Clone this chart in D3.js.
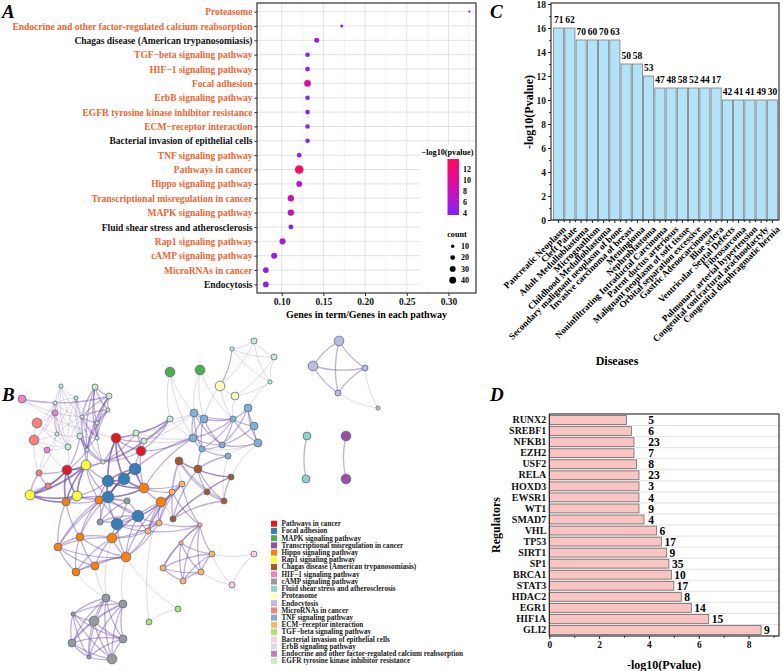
<!DOCTYPE html>
<html>
<head>
<meta charset="utf-8">
<script src="https://cdnjs.cloudflare.com/ajax/libs/d3/7.8.5/d3.min.js"></script>
<style>
body { margin: 0; background: #fff; }
svg text { font-family: "Liberation Serif", "Times New Roman", serif; font-weight: bold; }
</style>
</head>
<body>
<svg id="fig" width="783" height="671"></svg>
<script>
// ---------- A: KEGG dot plot ----------
const pathways = ["Proteasome", "Endocrine and other factor-regulated calcium reabsorption",
  "Chagas disease (American trypanosomiasis)", "TGF\u2212beta signaling pathway", "HIF\u22121 signaling pathway",
  "Focal adhesion", "ErbB signaling pathway", "EGFR tyrosine kinase inhibitor resistance",
  "ECM\u2212receptor interaction", "Bacterial invasion of epithelial cells", "TNF signaling pathway",
  "Pathways in cancer", "Hippo signaling pathway", "Transcriptional misregulation in cancer",
  "MAPK signaling pathway", "Fluid shear stress and atherosclerosis", "Rap1 signaling pathway",
  "cAMP signaling pathway", "MicroRNAs in cancer", "Endocytosis"];
const blackPathways = ["Chagas disease (American trypanosomiasis)", "Bacterial invasion of epithelial cells",
  "Fluid shear stress and atherosclerosis", "Endocytosis"];
const geneRatio = [0.325, 0.172, 0.142, 0.131, 0.131, 0.131, 0.131, 0.131, 0.131, 0.131,
  0.121, 0.121, 0.121, 0.111, 0.111, 0.111, 0.101, 0.091, 0.081, 0.081];
const pathCount = [4, 8, 22, 18, 20, 38, 18, 18, 18, 18, 19, 65, 28, 35, 35, 20, 33, 31, 29, 29];
const pathLogP = [4.6, 4.4, 5.2, 4.6, 4.8, 9.6, 4.6, 4.6, 4.6, 4.6, 5.0, 13.6, 6.5, 7.6, 8.2, 5.0, 5.9, 4.9, 4.2, 4.3];
const ratioTicks = [0.10, 0.15, 0.20, 0.25, 0.30];
const ratioMinor = [0.075, 0.125, 0.175, 0.225, 0.275, 0.325];
const logpLegend = [4, 6, 8, 10, 12];
const countLegend = [10, 20, 30, 40];

// ---------- B: Metascape network ----------
const groups = ["Pathways in cancer", "Focal adhesion", "MAPK signaling pathway",
  "Transcriptional misregulation in cancer", "Hippo signaling pathway", "Rap1 signaling pathway",
  "Chagas disease (American trypanosomiasis)", "HIF\u22121 signaling pathway", "cAMP signaling pathway",
  "Fluid shear stress and atherosclerosis", "Proteasome", "Endocytosis", "MicroRNAs in cancer",
  "TNF signaling pathway", "ECM\u2212receptor interaction", "TGF\u2212beta signaling pathway",
  "Bacterial invasion of epithelial cells", "ErbB signaling pathway",
  "Endocrine and other factor-regulated calcium reabsorption", "EGFR tyrosine kinase inhibitor resistance"];
const groupColors = ["#E41A1C", "#377EB8", "#4DAF4A", "#984EA3", "#FF7F00", "#FFFF33", "#A65628",
  "#F781BF", "#999999", "#8DD3C7", "#FFFFB3", "#BEBADA", "#FB8072", "#80B1D3", "#FDB462",
  "#B3DE69", "#FCCDE5", "#D9D9D9", "#BC80BD", "#CCEBC5"];
// [layoutX, layoutY, group, size]
const nodes = [
  [22,399,7,4],[37,423,12,5],[34,440,12,5],[47,450,7,3],[39,473,12,3],[48,486,12,3],[30,495,5,5],
  [67,470,0,5],[86,465,5,5],[77,496,5,5],[55,413,7,3],
  [61,386,19,2],[95,387,19,3],[109,396,19,3],[76,398,19,2],[55,403,19,2],[108,410,19,2],[82,417,19,2],
  [97,423,19,2],[57,434,19,2],[80,436,19,3],[97,438,19,2],[68,447,19,3],[87,450,19,2],[103,462,19,2],
  [116,438,0,5],[141,451,0,5],[136,433,19,3],[144,441,19,3],
  [170,372,2,5],[200,370,2,5],[220,386,10,5],[235,396,10,4],
  [232,349,19,2],[254,341,19,3],[274,357,19,3],[270,382,19,2],[170,419,19,3],
  [194,413,13,4],[204,419,13,4],[193,438,13,4],[202,449,13,3],[222,445,13,3],[233,419,13,3],
  [248,408,13,4],[254,426,13,4],[258,443,13,4],[228,456,13,3],
  [179,461,6,4],[198,469,6,4],[231,477,6,3],[207,492,6,3],[224,501,6,3],[173,519,6,3],
  [135,469,1,6],[108,481,1,6],[124,479,1,6],[108,497,1,6],[138,516,1,6],[117,524,1,6],
  [127,501,8,3],[100,522,8,3],
  [144,488,4,5],[161,502,4,5],[66,502,4,4],[99,500,4,4],[112,538,4,5],[80,537,4,4],[58,547,4,4],
  [126,557,4,5],[95,566,4,4],[76,572,4,4],
  [182,484,14,3],[172,492,14,3],[159,523,14,3],[148,531,14,3],[200,525,14,2],[181,543,14,2],
  [212,554,14,3],[163,568,14,3],[201,572,14,3],[183,581,14,3],
  [254,554,16,3],[232,585,16,3],[178,609,15,3],[149,622,15,3],
  [106,598,8,4],[123,604,8,4],[73,614,8,2],[94,621,8,5],[123,639,8,4],[72,643,8,4],[89,657,8,2],[112,659,8,5],
  [339,341,11,5],[313,366,11,5],[365,368,11,3],[338,393,11,3],[378,408,11,2],
  [307,436,9,4],[306,479,9,4],[346,436,3,5],[346,479,3,5]
];
// [weight, node ids] - every pair inside a clique is an edge
const cliques = [
  [1,[11,14,15,17,19,20,22]],[2,[12,13,16,17,18,21,23]],[1,[14,17,18,20,21,23,24]],
  [2,[0,13]],[1,[0,17]],[1,[0,25]],[1,[1,2,10,15,19,22]],[1,[2,3,4,19]],[2,[4,5,6,7]],[1,[3,22,7]],
  [3,[7,8,9,6,64]],[2,[7,8,20,23,24]],[2,[8,55,57,65,9]],[2,[25,26,27,28,24,37]],[3,[25,55,56,54]],
  [2,[26,54,62,40]],[1,[29,37]],[1,[29,38,40]],[1,[30,38,39]],[1,[30,43]],
  [1,[33,34,35,36]],[2,[31,33]],[1,[31,34]],[1,[32,35]],[1,[32,36]],[1,[31,32]],[1,[32,43]],[1,[31,39]],
  [2,[38,39,40,41,42,43]],[2,[43,44,45,46,42]],[1,[46,47,41]],[1,[27,28,37,38,40]],
  [2,[48,49,50,51,52,53]],[1,[48,72,73]],[2,[49,41,47]],[1,[50,46]],
  [3,[54,55,56,57,62]],[2,[57,58,59,60,61,65]],[2,[58,59,63,66,69,74,75]],[2,[64,65,67,68,57]],
  [2,[66,67,68,69,70,71]],[2,[62,63,73,72]],[1,[63,58,74,75]],[2,[72,73,74,75,76]],
  [2,[76,77,78,79,80,81]],[1,[78,82,83]],[1,[80,83]],[1,[84,85]],[1,[84,69]],[1,[85,63]],
  [2,[86,87,88,89,90,91,92,93]],[1,[86,70,71,66]],[1,[87,69]],
  [2,[94,95,96,97]],[1,[96,97,98]],[2,[99,100]],[2,[101,102]],
  [1,[31,43]],[1,[36,44]],[1,[47,52]],[1,[53,63]],[1,[60,65]]
];

// ---------- C: diseases ----------
const diseases = ["Pancreatic Neoplasm", "Cleft Palate", "Adult Medulloblastoma", "Micrognathism",
  "Childhood Medulloblastoma", "Secondary malignant neoplasm of bone", "Invasive carcinoma of breast",
  "Meningioma", "Nephroblastoma", "Noninfiltrating Intraductal Carcinoma", "Patent ductus arteriosus",
  "Malignant neoplasm of soft tissue", "Orbital separation excessive", "Gastric Adenocarcinoma",
  "Blue sclera", "Ventricular Septal Defects", "Fibrosarcoma", "Pulmonary arterial hypertension",
  "Congenital contractural arachnodactyly", "Congenital diaphragmatic hernia"];
const diseaseLogP = [16, 16, 15, 15, 15, 15, 13, 13, 12, 11, 11, 11, 11, 11, 11, 10, 10, 10, 10, 10];
const diseaseCount = [71, 62, 70, 60, 70, 63, 50, 58, 53, 47, 48, 58, 52, 44, 17, 42, 41, 41, 49, 30];

// ---------- D: regulators ----------
const regulators = ["RUNX2", "SREBF1", "NFKB1", "EZH2", "USF2", "RELA", "HOXD3", "EWSR1", "WT1", "SMAD7",
  "VHL", "TP53", "SIRT1", "SP1", "BRCA1", "STAT3", "HDAC2", "EGR1", "HIF1A", "GLI2"];
const regLogP = [3.1, 3.3, 3.4, 3.4, 3.5, 3.6, 3.6, 3.6, 3.6, 3.8, 4.3, 4.5, 4.7, 4.8, 4.9, 5.0, 5.3, 5.7, 6.4, 8.5];
const regCount = [5, 6, 23, 7, 8, 23, 3, 4, 9, 4, 6, 17, 9, 35, 10, 17, 8, 14, 15, 9];

const svg = d3.select("#fig");
const orange = "#EF6530";

function styleAxis(g, size) {
  g.attr("font-size", size).attr("color", "#222");
  g.select(".domain").remove();
  g.selectAll("text").attr("fill", "#111");
}
function letter(x, y, t) {
  svg.append("text").attr("x", x).attr("y", y).attr("font-size", 19).attr("font-style", "italic").text(t);
}

// ================= Panel A =================
const ax = d3.scaleLinear().domain([0.0704, 0.333]).range([257, 476]);
const ay = d3.scalePoint().domain(pathways).range([3, 293]).padding(0.6);
const ar = d3.scaleSqrt().domain([0, 70]).range([0, 4.5]);
const ac = d3.scaleLinear().domain([3.7, 13.8]).range(["#7B22FF", "#FF0A5C"]).interpolate(d3.interpolateLab);

const gA = svg.append("g");
gA.selectAll(".vmin").data(ratioMinor).join("line").attr("class", "vmin")
  .attr("x1", d => ax(d)).attr("x2", d => ax(d)).attr("y1", 3).attr("y2", 293).attr("stroke", "#F3F3F3");
gA.selectAll(".vmaj").data(ratioTicks).join("line").attr("class", "vmaj")
  .attr("x1", d => ax(d)).attr("x2", d => ax(d)).attr("y1", 3).attr("y2", 293).attr("stroke", "#E3E3E3");
gA.selectAll(".hmaj").data(pathways).join("line").attr("class", "hmaj")
  .attr("x1", 257).attr("x2", 476).attr("y1", d => ay(d)).attr("y2", d => ay(d)).attr("stroke", "#E3E3E3");

const axA = gA.append("g").attr("transform", "translate(0,293)")
  .call(d3.axisBottom(ax).tickValues(ratioTicks).tickFormat(d3.format(".2f")).tickSize(3).tickPadding(2));
styleAxis(axA, 9.5);
const ayA = gA.append("g").attr("transform", "translate(257,0)")
  .call(d3.axisLeft(ay).tickSize(2.5).tickPadding(2));
styleAxis(ayA, 9.5);
ayA.selectAll("text").attr("fill", d => blackPathways.includes(d) ? "#111" : orange);

const dots = pathways.map((p, i) => ({ p, ratio: geneRatio[i], count: pathCount[i], lp: pathLogP[i] }));
gA.selectAll(".dot").data(dots).join("circle").attr("class", "dot")
  .attr("cx", d => ax(d.ratio)).attr("cy", d => ay(d.p)).attr("r", d => ar(d.count)).attr("fill", d => ac(d.lp));

gA.append("rect").attr("x", 257).attr("y", 3).attr("width", 219).attr("height", 290)
  .attr("fill", "none").attr("stroke", "#333").attr("stroke-width", 1.2);
gA.append("text").attr("x", 366.5).attr("y", 318).attr("text-anchor", "middle").attr("font-size", 10)
  .text("Genes in term/Genes in each pathway");

// legend
const legA = gA.append("g");
legA.append("rect").attr("x", 420).attr("y", 145).attr("width", 55).attr("height", 144).attr("fill", "#fff");
legA.append("text").attr("x", 421.5).attr("y", 155).attr("font-size", 8.2).text("\u2212log10(pvalue)");
const cbY = d3.scaleLinear().domain([3.7, 13.8]).range([215, 159]);
const grad = svg.append("defs").append("linearGradient").attr("id", "lpGrad")
  .attr("x1", 0).attr("y1", 1).attr("x2", 0).attr("y2", 0);
d3.range(0, 1.01, 0.1).forEach(t => grad.append("stop").attr("offset", t).attr("stop-color", ac(3.7 + t * 10.1)));
legA.append("rect").attr("x", 447.5).attr("y", cbY(13.8)).attr("width", 11.5).attr("height", cbY(3.7) - cbY(13.8))
  .attr("fill", "url(#lpGrad)");
legA.selectAll(".cbt").data(logpLegend).join("text").attr("class", "cbt")
  .attr("x", 463).attr("y", d => cbY(d)).attr("dy", "0.35em").attr("font-size", 8).text(d => d);
legA.append("text").attr("x", 457).attr("y", 237).attr("text-anchor", "middle").attr("font-size", 8.2).text("count");
const cntY = d3.scalePoint().domain(countLegend).range([246.3, 280.2]);
legA.selectAll(".cnt").data(countLegend).join("circle").attr("class", "cnt")
  .attr("cx", 452.7).attr("cy", d => cntY(d)).attr("r", d => ar(d)).attr("fill", "#000");
legA.selectAll(".cntt").data(countLegend).join("text").attr("class", "cntt")
  .attr("x", 461).attr("y", d => cntY(d)).attr("dy", "0.35em").attr("font-size", 8).text(d => d);
letter(2, 18, "A");

// ================= Panel B =================
const bx = d3.scaleLinear().domain(d3.extent(nodes, d => d[0])).range([22, 378]);
const by = d3.scaleLinear().domain(d3.extent(nodes, d => d[1])).range([341, 659]);
const bs = d3.scaleLinear().domain([2, 6]).range([2.1, 5.8]);
const edgeMap = new Map();
cliques.forEach(([w, ids]) => {
  for (let i = 0; i < ids.length; i++) for (let j = i + 1; j < ids.length; j++) {
    const a = Math.min(ids[i], ids[j]), b = Math.max(ids[i], ids[j]);
    const k = a + "-" + b;
    if (!edgeMap.has(k) || edgeMap.get(k)[2] < w) edgeMap.set(k, [a, b, w]);
  }
});
const edges = Array.from(edgeMap.values());
const gB = svg.append("g");
gB.selectAll(".edge").data(edges).join("path").attr("class", "edge")
  .attr("d", ([a, b]) => {
    const x1 = bx(nodes[a][0]), y1 = by(nodes[a][1]), x2 = bx(nodes[b][0]), y2 = by(nodes[b][1]);
    const cx = (x1 + x2) / 2 - (y2 - y1) * 0.12, cy = (y1 + y2) / 2 + (x2 - x1) * 0.12;
    return `M${x1},${y1}Q${cx},${cy} ${x2},${y2}`;
  })
  .attr("fill", "none").attr("stroke", "#6E4BA8")
  .attr("stroke-opacity", d => [0, 0.25, 0.45, 0.7][d[2]])
  .attr("stroke-width", d => [0, 0.9, 1.3, 1.7][d[2]]);
gB.selectAll(".node").data(nodes).join("circle").attr("class", "node")
  .attr("cx", d => bx(d[0])).attr("cy", d => by(d[1])).attr("r", d => bs(d[3]))
  .attr("fill", d => groupColors[d[2]]).attr("stroke", "#566c8c").attr("stroke-width", 0.8);

const ly = d3.scalePoint().domain(groups).range([523.7, 661]);
gB.selectAll(".lsq").data(groups).join("rect").attr("class", "lsq")
  .attr("x", 271).attr("y", d => ly(d) - 3).attr("width", 6).attr("height", 6)
  .attr("fill", (d, i) => groupColors[i]);
gB.selectAll(".ltx").data(groups).join("text").attr("class", "ltx")
  .attr("x", 281.5).attr("y", d => ly(d)).attr("dy", "0.33em").attr("font-size", 7.2).attr("fill", "#222")
  .text(d => d);
letter(2, 401, "B");

// ================= Panel C =================
const cx = d3.scaleBand().domain(diseases).range([553, 778]).paddingInner(0.1).paddingOuter(0.05);
const cy = d3.scaleLinear().domain([0, 18]).range([220, 4]);
const gC = svg.append("g");
const bars = diseases.map((d, i) => ({ d, v: diseaseLogP[i], n: diseaseCount[i] }));
gC.selectAll(".bar").data(bars).join("rect").attr("class", "bar")
  .attr("x", d => cx(d.d)).attr("y", d => cy(d.v)).attr("width", cx.bandwidth())
  .attr("height", d => cy(0) - cy(d.v)).attr("fill", "#B3E3F8").attr("stroke", "#7d7d7d").attr("stroke-width", 0.8);
gC.selectAll(".cnt").data(bars).join("text").attr("class", "cnt")
  .attr("x", d => cx(d.d) + cx.bandwidth() / 2).attr("y", d => cy(d.v) - 5)
  .attr("text-anchor", "middle").attr("font-size", 9.5).text(d => d.n);
gC.append("rect").attr("x", 551).attr("y", 3).attr("width", 228).attr("height", 217)
  .attr("fill", "none").attr("stroke", "#222").attr("stroke-width", 1.1);
const cyAxis = gC.append("g").attr("transform", "translate(551,0)")
  .call(d3.axisLeft(cy).tickValues(d3.range(0, 19, 2)).tickSize(3).tickPadding(2));
styleAxis(cyAxis, 9.5);
gC.append("g").attr("transform", "translate(551,0)")
  .call(d3.axisLeft(cy).tickValues(d3.range(1, 18, 2)).tickSize(1.8).tickFormat(""))
  .call(g => g.select(".domain").remove()).attr("color", "#222");
const cxAxis = gC.append("g").attr("transform", "translate(0,220)")
  .call(d3.axisBottom(cx).tickSize(3).tickFormat(""));
styleAxis(cxAxis, 9.5);
gC.selectAll(".cmin").data(diseases.slice(1)).join("line").attr("class", "cmin")
  .attr("x1", d => cx(d) - cx.step() * 0.05).attr("x2", d => cx(d) - cx.step() * 0.05)
  .attr("y1", 220).attr("y2", 222).attr("stroke", "#222");
gC.selectAll(".clab").data(diseases).join("text").attr("class", "clab")
  .attr("transform", d => `translate(${cx(d) + cx.bandwidth() / 2 + 4},226) rotate(-45)`)
  .attr("text-anchor", "end").attr("dy", "0.6em").attr("font-size", 9.3).text(d => d);
gC.append("text").attr("x", 617).attr("y", 365).attr("text-anchor", "middle").attr("font-size", 12).text("Diseases");
gC.append("text").attr("transform", "translate(533,112) rotate(-90)").attr("text-anchor", "middle")
  .attr("font-size", 12).text("-log10(Pvalue)");
letter(490, 18, "C");

// ================= Panel D =================
const dy = d3.scaleBand().domain(regulators).range([414.5, 635.5]).paddingInner(0.2).paddingOuter(0.1);
const dx = d3.scaleLinear().domain([0, 9.22]).range([549.3, 779]);
const gD = svg.append("g");
gD.selectAll(".dgrid").data(regulators).join("line").attr("class", "dgrid")
  .attr("x1", 549.3).attr("x2", 779)
  .attr("y1", d => dy(d) + dy.bandwidth() + dy.step() * 0.1).attr("y2", d => dy(d) + dy.bandwidth() + dy.step() * 0.1)
  .attr("stroke", "#d6d6d6").attr("stroke-width", 0.7);
const regs = regulators.map((r, i) => ({ r, v: regLogP[i], n: regCount[i] }));
gD.selectAll(".rbar").data(regs).join("rect").attr("class", "rbar")
  .attr("x", dx(0)).attr("y", d => dy(d.r)).attr("height", dy.bandwidth()).attr("width", d => dx(d.v) - dx(0))
  .attr("fill", "#F9C4C2").attr("stroke", "#6a6a6a").attr("stroke-width", 0.8);
gD.selectAll(".rcnt").data(regs).join("text").attr("class", "rcnt")
  .attr("x", d => dx(Math.max(d.v, 3.85)) + 3).attr("y", d => dy(d.r) + dy.bandwidth() / 2)
  .attr("dy", "0.36em").attr("font-size", 11.5).text(d => d.n);
gD.append("rect").attr("x", 549.3).attr("y", 414).attr("width", 229.7).attr("height", 222)
  .attr("fill", "none").attr("stroke", "#222").attr("stroke-width", 1.1);
const dyAxis = gD.append("g").attr("transform", "translate(549.3,0)")
  .call(d3.axisLeft(dy).tickSize(0).tickPadding(3));
styleAxis(dyAxis, 10);
const dxAxis = gD.append("g").attr("transform", "translate(0,636)")
  .call(d3.axisBottom(dx).tickValues([0, 2, 4, 6, 8]).tickSize(3).tickPadding(2));
styleAxis(dxAxis, 9.5);
gD.append("g").attr("transform", "translate(0,636)")
  .call(d3.axisBottom(dx).tickValues([1, 3, 5, 7, 9]).tickSize(1.8).tickFormat(""))
  .call(g => g.select(".domain").remove()).attr("color", "#222");
gD.append("text").attr("x", 664).attr("y", 669).attr("text-anchor", "middle").attr("font-size", 12).text("-log10(Pvalue)");
gD.append("text").attr("transform", "translate(500,525) rotate(-90)").attr("text-anchor", "middle")
  .attr("font-size", 12).text("Regulators");
letter(490, 401, "D");
</script>
</body>
</html>
